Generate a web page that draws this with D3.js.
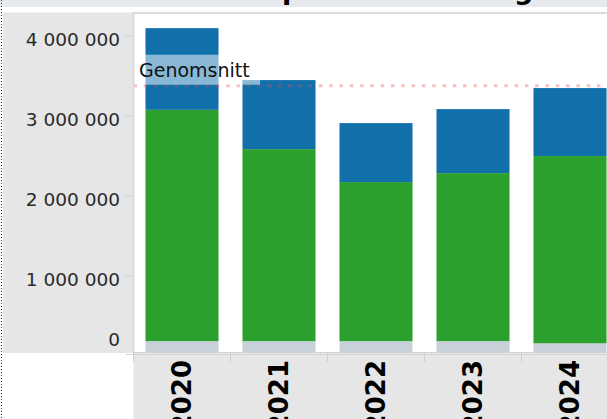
<!DOCTYPE html>
<meta charset="utf-8">
<style>
body {
  margin: 0;
  background: #fff;
}
text {
  font-family: "DejaVu Sans", sans-serif;
}
</style>
<body>
<script src="https://cdn.jsdelivr.net/npm/d3@7"></script>
<script>

// data
const years = ["2020", "2021", "2022", "2023", "2024"];
const greyPart  = [181000, 181000, 181000, 181000, 154000];
const greenPart = [2891000, 2400000, 1988000, 2100000, 2340000];
const bluePart  = [1021000, 863000, 737000, 800000, 850000];
const yTicks = [0, 1000000, 2000000, 3000000, 4000000];
const keys = ["grey", "green", "blue"];
const colors = {grey: "#c8d0d9", green: "#2ca02c", blue: "#1170aa"};

const width = 607;
const height = 419;

const pane = {left: 133.5, top: 12.5, right: 607, bottom: 353};

const rows = years.map((y, i) => ({year: y, grey: greyPart[i], green: greenPart[i], blue: bluePart[i]}));
const series = d3.stack().keys(keys)(rows);
const totals = rows.map(d => d.grey + d.green + d.blue);
const average = d3.mean(totals);

const locale = d3.formatLocale({decimal: ",", thousands: " ", grouping: [3], currency: ["", " kr"]});
const fmt = locale.format(",");

const xOuter = d3.scaleBand()
    .domain(years)
    .range([pane.left, pane.left + 97 * years.length]);

const xScale = d3.scaleBand()
    .domain(years)
    .range(xOuter.range())
    .paddingInner(0.247)
    .paddingOuter(0.1235);

const yScale = d3.scaleLinear()
    .domain([0, 4300000])
    .range([355.6, 11.6]);

const svg = d3.select("body").append("svg")
    .attr("width", width)
    .attr("height", height);

// title strip (mostly cut off at the top)
svg.append("rect")
    .attr("width", width)
    .attr("height", 7)
    .attr("fill", "#e6eaee");

svg.append("text")
    .attr("x", 186)
    .attr("y", -1.5)
    .attr("font-size", 27)
    .attr("font-weight", "bold")
    .attr("fill", "#000")
    .text("Totalt per år och kategori");

// dashboard selection border
svg.append("line")
    .attr("x1", 1.5).attr("x2", 1.5)
    .attr("y1", 0).attr("y2", height)
    .attr("stroke", "#333")
    .attr("stroke-dasharray", "1,2");

// y axis panel
svg.append("rect")
    .attr("x", 3)
    .attr("y", pane.top)
    .attr("width", pane.left - 3)
    .attr("height", pane.bottom - pane.top)
    .attr("fill", "#e6e6e6");

// x axis panel
svg.append("rect")
    .attr("x", pane.left)
    .attr("y", pane.bottom)
    .attr("width", width - pane.left)
    .attr("height", height - pane.bottom)
    .attr("fill", "#e6e6e6");

svg.append("line")
    .attr("x1", 126).attr("x2", width)
    .attr("y1", 354.5).attr("y2", 354.5)
    .attr("stroke", "#d6d6d6");

svg.append("clipPath")
    .attr("id", "pane")
  .append("rect")
    .attr("x", pane.left)
    .attr("y", pane.top)
    .attr("width", pane.right - pane.left)
    .attr("height", pane.bottom - pane.top);

const plot = svg.append("g")
    .attr("clip-path", "url(#pane)");

plot.append("line")
    .attr("x1", pane.left).attr("x2", pane.right)
    .attr("y1", pane.bottom - 0.5).attr("y2", pane.bottom - 0.5)
    .attr("stroke", "#bbb")
    .attr("stroke-dasharray", "2,1");

plot.selectAll("g.layer")
    .data(series)
    .join("g")
      .attr("class", "layer")
      .attr("fill", d => colors[d.key])
    .selectAll("rect")
    .data(d => d)
    .join("rect")
      .attr("x", d => xScale(d.data.year))
      .attr("width", xScale.bandwidth())
      .attr("y", d => yScale(d[1]))
      .attr("height", d => yScale(d[0]) - yScale(d[1]));

// average reference line
const avgY = yScale(average);

plot.append("line")
    .attr("x1", pane.left).attr("x2", pane.right)
    .attr("y1", avgY).attr("y2", avgY)
    .attr("stroke", "#e8474a")
    .attr("stroke-opacity", 0.35)
    .attr("stroke-width", 3)
    .attr("stroke-dasharray", "3.5,6.8");

plot.append("rect")
    .attr("x", 137)
    .attr("y", avgY - 31)
    .attr("width", 123)
    .attr("height", 30)
    .attr("fill", "#fff")
    .attr("fill-opacity", 0.5);

plot.append("text")
    .attr("x", 139)
    .attr("y", avgY - 8.5)
    .attr("font-size", 19)
    .attr("fill", "#111")
    .text("Genomsnitt");

// pane borders
svg.append("line")
    .attr("x1", pane.left).attr("x2", width)
    .attr("y1", 13).attr("y2", 13)
    .attr("stroke", "#dcdcdc")
    .attr("stroke-width", 2);

svg.append("line")
    .attr("x1", pane.left).attr("x2", pane.left)
    .attr("y1", 12).attr("y2", pane.bottom)
    .attr("stroke", "#dcdcdc")
    .attr("stroke-width", 2);

// y axis
const yAxis = d3.axisLeft(yScale)
    .tickValues(yTicks)
    .tickFormat(fmt)
    .tickSize(7)
    .tickPadding(5);

const yG = svg.append("g")
    .attr("transform", `translate(132, 0)`)
    .call(yAxis);

yG.select(".domain").remove();
yG.selectAll(".tick line").attr("stroke", "#d0d0d0");
yG.selectAll(".tick text")
    .attr("font-family", "DejaVu Sans")
    .attr("font-size", 18.5)
    .attr("fill", "#2a2a2a")
    .attr("dy", "0.52em");
// the zero label is pushed up inside the panel
yG.selectAll(".tick")
    .filter(d => d === 0)
    .each(function() {
      d3.select(this).select("line").remove();
      d3.select(this).select("text").attr("y", 341 - yScale(0) - 9.5 + 4.8);
    });

// x axis: band separators and rotated year labels
svg.append("g")
  .selectAll("line")
  .data(years.concat(["end"]))
  .join("line")
    .attr("x1", (d, i) => xOuter.range()[0] + i * xOuter.step())
    .attr("x2", (d, i) => xOuter.range()[0] + i * xOuter.step())
    .attr("y1", pane.bottom)
    .attr("y2", 362)
    .attr("stroke", "#cfcfcf");

svg.append("g")
  .selectAll("text")
  .data(years)
  .join("text")
    .attr("transform", d => `translate(${xOuter(d) + xOuter.bandwidth() / 2}, 360) rotate(-90)`)
    .attr("text-anchor", "end")
    .attr("dy", "0.36em")
    .attr("font-size", 26)
    .attr("font-weight", "bold")
    .attr("fill", "#000")
    .text(d => d);

</script>
